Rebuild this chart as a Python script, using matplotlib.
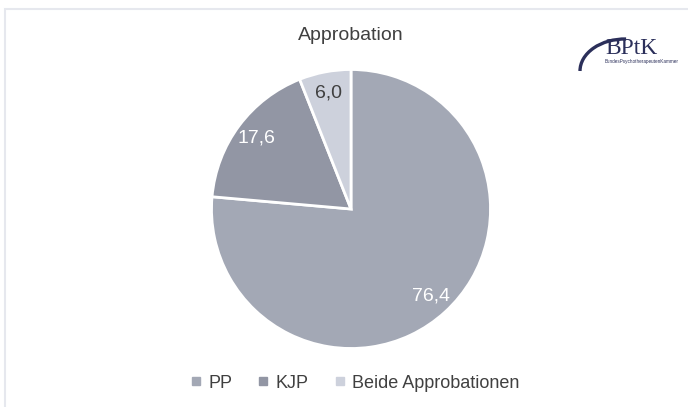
import matplotlib.pyplot as plt
from matplotlib.patches import Rectangle, Arc
from matplotlib.lines import Line2D

plt.rcParams["font.family"] = ["Liberation Sans", "DejaVu Sans"]

categories = ["PP", "KJP", "Beide Approbationen"]
values = [76.4, 17.6, 6.0]
colors = ["#a3a8b5", "#9296a4", "#cdd1dc"]
label_colors = ["white", "white", "#404040"]

fig = plt.figure(figsize=(6.88, 4.07), dpi=100)

# light frame round the chart area
fig.patches.append(Rectangle((5 / 688, -0.05), 1.2, 1 - 8.5 / 407 + 0.05,
                             transform=fig.transFigure, fill=False,
                             edgecolor="#e6e8ee", linewidth=1.5))

# pie axes: centre (351, 209) px, radius ~139.5 px
r = 139.5
pad = 1.03
ax = fig.add_axes([(351 - r * pad) / 688, (407 - 209 - r * pad) / 407,
                   2 * r * pad / 688, 2 * r * pad / 407])
wedges, texts, autotexts = ax.pie(
    values, colors=colors, startangle=90, counterclock=False,
    autopct=lambda p: f"{p:.1f}".replace(".", ","), pctdistance=0.85,
    wedgeprops=dict(edgecolor="white", linewidth=2),
    textprops=dict(fontsize=14))
for t, c in zip(autotexts, label_colors):
    t.set_color(c)
ax.set_xlim(-pad, pad)
ax.set_ylim(-pad, pad)
ax.set_aspect("equal")

fig.text(351 / 688, 1 - 35 / 407, "Approbation", ha="center", va="center",
         fontsize=14, color="#404040")

# legend
handles = [Line2D([], [], marker="s", linestyle="none", markersize=6,
                  markerfacecolor=c, markeredgecolor=c) for c in colors]
fig.legend(handles, categories, loc="center", ncol=3,
           bbox_to_anchor=(355 / 688, 1 - 383 / 407), frameon=False,
           fontsize=13, labelcolor="#404040", handlelength=0.6,
           handletextpad=0.4, columnspacing=1.4)

# BPtK logo
lx = fig.add_axes([570 / 688, 1 - 73 / 407, 118 / 688, 44 / 407])
lx.set_xlim(0, 118)
lx.set_ylim(44, 0)
lx.axis("off")
lx.add_patch(Arc((55, 42), 90, 64, theta1=180, theta2=272, color="#2b2f5a",
                 linewidth=2.4))
lx.text(35, 19, "BPtK", fontfamily="Liberation Serif", fontsize=17,
        color="#2b2f5a", va="center", ha="left")
lx.text(35, 32, "BundesPsychotherapeutenKammer", fontsize=3.3,
        color="#2b2f5a", va="center", ha="left")

fig.savefig("out.png", dpi=100)
